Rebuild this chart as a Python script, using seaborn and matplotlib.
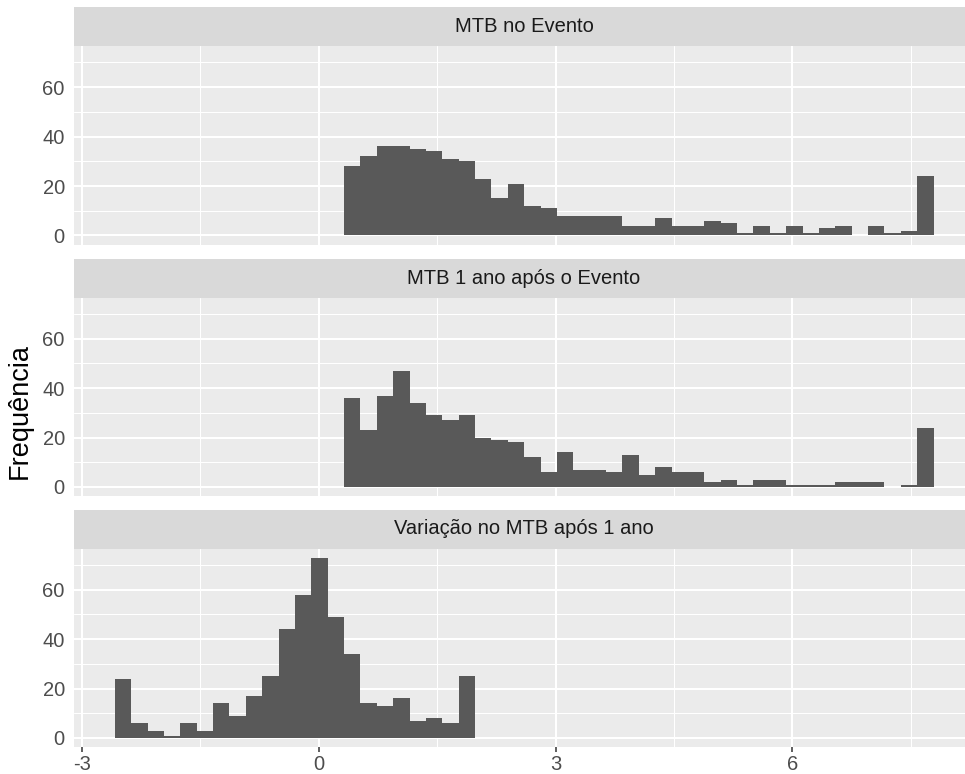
import matplotlib
matplotlib.use('Agg')
import matplotlib.pyplot as plt
import seaborn as sns
import numpy as np
import pandas as pd
from matplotlib.ticker import MultipleLocator

# histogram bins shared by all three facets
BIN_START = -2.583
BIN_WIDTH = 0.2074

panel_titles = ['MTB no Evento', 'MTB 1 ano após o Evento', 'Variação no MTB após 1 ano']
first_bins = [14, 14, 0]

mtb_evento = [28, 32, 36, 36, 35, 34, 31, 30, 23, 15,
              21, 12, 11, 8, 8, 8, 8, 4, 4,
              7, 4, 4, 6, 5, 1, 4, 1, 4, 1, 3, 4, 0, 4, 1, 2, 24]
mtb_1ano = [36, 23, 37, 47, 34, 29, 27, 29, 20, 19,
            18, 12, 6, 14, 7, 7, 6, 13, 5,
            8, 6, 6, 2, 3, 1, 3, 3, 1, 1, 1, 2, 2, 2, 0, 1, 24]
variacao_mtb = [24, 6, 3, 1, 6, 3, 14, 9, 17, 25, 44,
                58, 73, 49, 34, 14, 13, 16, 7, 8, 6, 25]

x_ticks = [-3, 0, 3, 6]
y_ticks = [0, 20, 40, 60]

sns.set_style('white')
plt.rcParams['font.family'] = ['Liberation Sans', 'DejaVu Sans']
plt.rcParams['axes.unicode_minus'] = False

W, H = 965, 774
fig = plt.figure(figsize=(W / 100, H / 100), dpi=100)


def px_box(left, top, right, bottom):
    return [left / W, 1 - bottom / H, (right - left) / W, (bottom - top) / H]


strip_tops = [7, 258.5, 509.5]
STRIP_H = 39
PANEL_H = 198.5
LEFT, RIGHT = 74, 974

for i, counts in enumerate([mtb_evento, mtb_1ano, variacao_mtb]):
    top = strip_tops[i]
    # facet strip
    sax = fig.add_axes(px_box(LEFT, top, RIGHT, top + STRIP_H))
    sax.set_facecolor('#D9D9D9')
    sax.set_xticks([])
    sax.set_yticks([])
    for s in sax.spines.values():
        s.set_visible(False)
    sax.text(0.5, 0.5, panel_titles[i], transform=sax.transAxes, ha='center', va='center',
             fontsize=14.5, color='#1A1A1A')

    # panel
    ax = fig.add_axes(px_box(LEFT, top + STRIP_H, RIGHT, top + STRIP_H + PANEL_H))
    idx = np.arange(first_bins[i], first_bins[i] + len(counts))
    df = pd.DataFrame({'x': BIN_START + BIN_WIDTH * (idx + 0.5), 'n': counts})
    edges = BIN_START + BIN_WIDTH * np.arange(first_bins[i], first_bins[i] + len(counts) + 1)
    sns.histplot(data=df, x='x', weights='n', bins=edges.tolist(), ax=ax, color='#595959',
                 alpha=1, linewidth=0)

    ax.set_facecolor('#EBEBEB')
    ax.set_xlim(-3.10, 8.30)
    ax.set_ylim(-3.65, 76.65)
    ax.set_xticks(x_ticks)
    ax.set_yticks(y_ticks)
    ax.xaxis.set_minor_locator(MultipleLocator(1.5))
    ax.yaxis.set_minor_locator(MultipleLocator(10))
    ax.grid(which='major', color='white', linewidth=1.5)
    ax.grid(which='minor', color='white', linewidth=0.75)
    ax.set_axisbelow(True)
    for s in ax.spines.values():
        s.set_visible(False)
    ax.tick_params(which='major', length=3.6, width=1.1, color='#333333',
                   labelsize=14.5, labelcolor='#4D4D4D', pad=3)
    ax.tick_params(which='minor', length=0)
    ax.tick_params(axis='x', bottom=(i == 2), labelbottom=(i == 2), pad=2.5)
    ax.set_xlabel('')
    ax.set_ylabel('')

fig.text(20 / W, 1 - 411 / H, 'Frequência', rotation=90, ha='center', va='center',
         fontsize=19.5, color='black')

fig.savefig('out.png', dpi=100)
